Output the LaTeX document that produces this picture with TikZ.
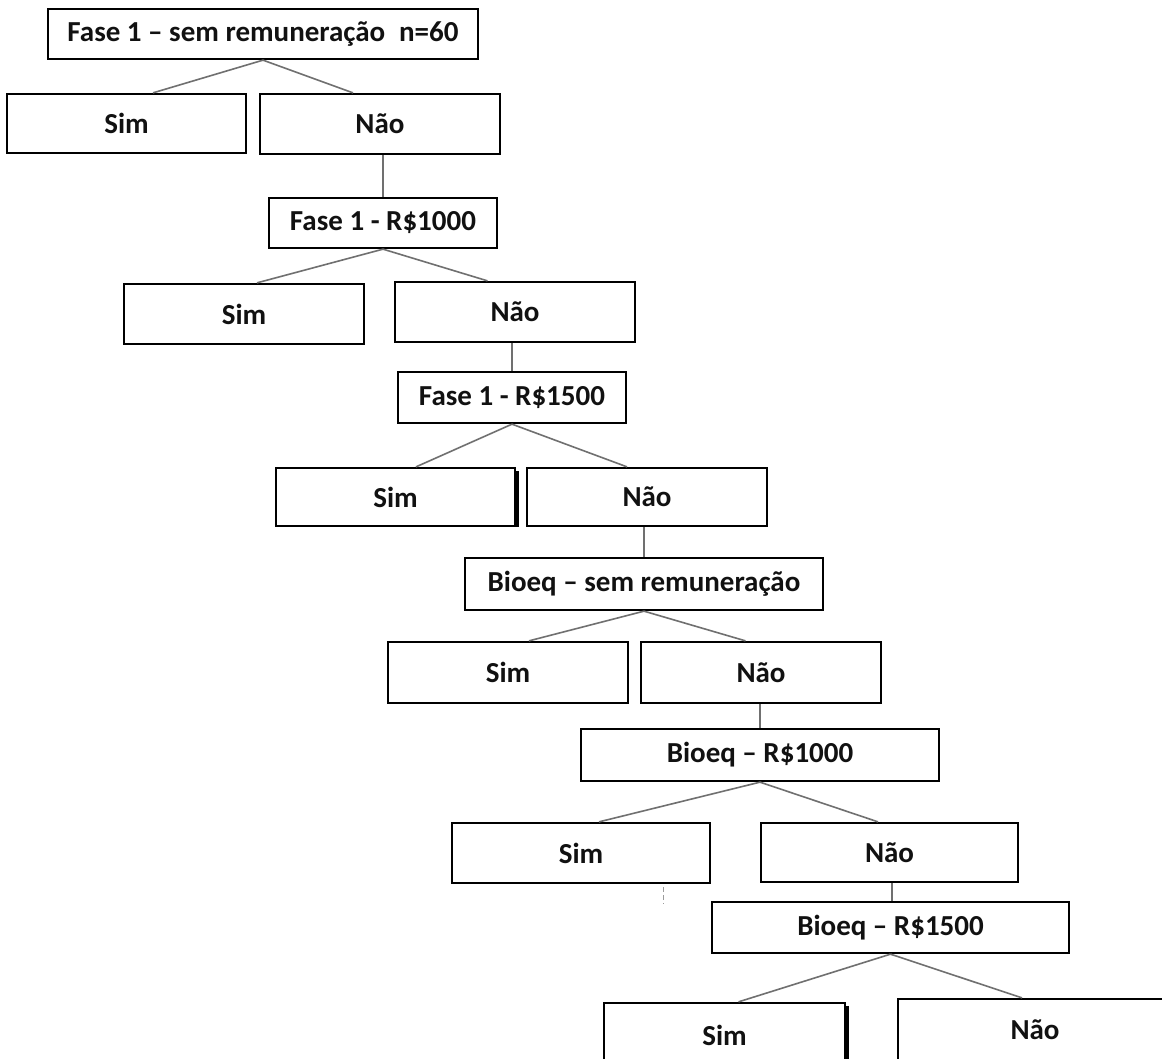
\documentclass[tikz,border=0pt]{standalone}
\usepackage{fontspec}
\setmainfont{Carlito}
\usetikzlibrary{calc}
\definecolor{linegray}{HTML}{707070}
\definecolor{txt}{HTML}{111111}
\tikzset{
  box/.style={draw=black, line width=2.3pt, fill=white, inner sep=0pt,
    text=txt, font=\fontsize{29}{34}\selectfont\bfseries, anchor=center},
  conn/.style={draw=linegray, line width=1.6pt},
  edgethick/.style={draw=black, line width=2.4pt},
  stray/.style={draw=linegray!70, line width=1.2pt, dash pattern=on 5pt off 3pt}
}
\begin{document}
\begin{tikzpicture}[x=1pt,y=-1pt]
\useasboundingbox (0,0) rectangle (1162,1058);
\fill[white] (0,0) rectangle (1162,1058);
\begin{scope}
\clip (0,0) rectangle (1162,1058);
% level 1
\node[box, minimum width=430pt, minimum height=50pt] (top) at (263,34) {Fase 1 -- sem remuneração\hspace{0.25em} n=60};
\node[box, minimum width=239pt, minimum height=59pt] (sim1) at (126.5,123.5) {Sim};
\node[box, minimum width=240pt, minimum height=60pt] (nao1) at (380,124) {Não};
% level 2
\node[box, minimum width=228pt, minimum height=50pt] (r1000) at (383,223) {Fase 1 - R\$1000};
\node[box, minimum width=240pt, minimum height=60pt] (sim2) at (244,314) {Sim};
\node[box, minimum width=240pt, minimum height=60pt] (nao2) at (515,312) {Não};
% level 3
\node[box, minimum width=228pt, minimum height=51pt] (r1500) at (512,397.5) {Fase 1 - R\$1500};
\node[box, minimum width=239pt, minimum height=58pt] (sim3) at (395.5,497) {Sim};
\node[box, minimum width=240pt, minimum height=58pt] (nao3) at (647,497) {Não};
% level 4
\node[box, minimum width=358pt, minimum height=52pt] (bsem) at (644,584) {Bioeq -- sem remuneração};
\node[box, minimum width=240pt, minimum height=61pt] (sim4) at (508,672.5) {Sim};
\node[box, minimum width=240pt, minimum height=61pt] (nao4) at (761,672.5) {Não};
% level 5
\node[box, minimum width=358pt, minimum height=52pt] (b1000) at (760,755) {Bioeq -- R\$1000};
\node[box, minimum width=258pt, minimum height=60pt] (sim5) at (581,853) {Sim};
\node[box, minimum width=257pt, minimum height=59pt] (nao5) at (889.5,852.5) {Não};
% level 6
\node[box, minimum width=357pt, minimum height=51pt] (b1500) at (890.5,927.5) {Bioeq -- R\$1500};
\node[box, minimum width=241pt, minimum height=64pt] (sim6) at (724.5,1035) {Sim};
\node[box, minimum width=274pt, minimum height=62pt] (nao6) at (1035,1030) {Não};
% thickened right edges seen in the reference
\draw[edgethick] ([xshift=1.3pt,yshift=-4pt]sim3.north east) -- ([xshift=1.3pt]sim3.south east);
\draw[edgethick] ([xshift=1.3pt,yshift=-4pt]sim6.north east) -- ([xshift=1.3pt]sim6.south east);
% connectors
\draw[conn] (top.south) -- ([xshift=26.5pt]sim1.north);
\draw[conn] (top.south) -- ([xshift=-27pt]nao1.north);
\draw[conn] (r1000.north) -- (r1000.north |- nao1.south);
\draw[conn] (r1000.south) -- ([xshift=13pt]sim2.north);
\draw[conn] (r1000.south) -- ([xshift=-27.5pt]nao2.north);
\draw[conn] (r1500.north) -- (r1500.north |- nao2.south);
\draw[conn] (r1500.south) -- ([xshift=20.5pt]sim3.north);
\draw[conn] (r1500.south) -- ([xshift=-20pt]nao3.north);
\draw[conn] (bsem.north) -- (bsem.north |- nao3.south);
\draw[conn] (bsem.south) -- ([xshift=21pt]sim4.north);
\draw[conn] (bsem.south) -- ([xshift=-15.5pt]nao4.north);
\draw[conn] (b1000.north) -- (b1000.north |- nao4.south);
\draw[conn] (b1000.south) -- ([xshift=18pt]sim5.north);
\draw[conn] (b1000.south) -- ([xshift=-11.5pt]nao5.north);
\draw[conn] ([xshift=1.5pt]b1500.north) -- ([xshift=1.5pt]b1500.north |- nao5.south);
\draw[conn] (b1500.south) -- ([xshift=14pt]sim6.north);
\draw[conn] (b1500.south) -- ([xshift=-13pt]nao6.north);
% stray dashed mark below the fifth "Sim"
\coordinate (m1) at ([xshift=82.5pt,yshift=-3pt]sim5.south);
\coordinate (m2) at ([xshift=82.5pt,yshift=-20pt]sim5.south);
\draw[stray] (m1) -- (m2);
\end{scope}
\end{tikzpicture}
\end{document}
